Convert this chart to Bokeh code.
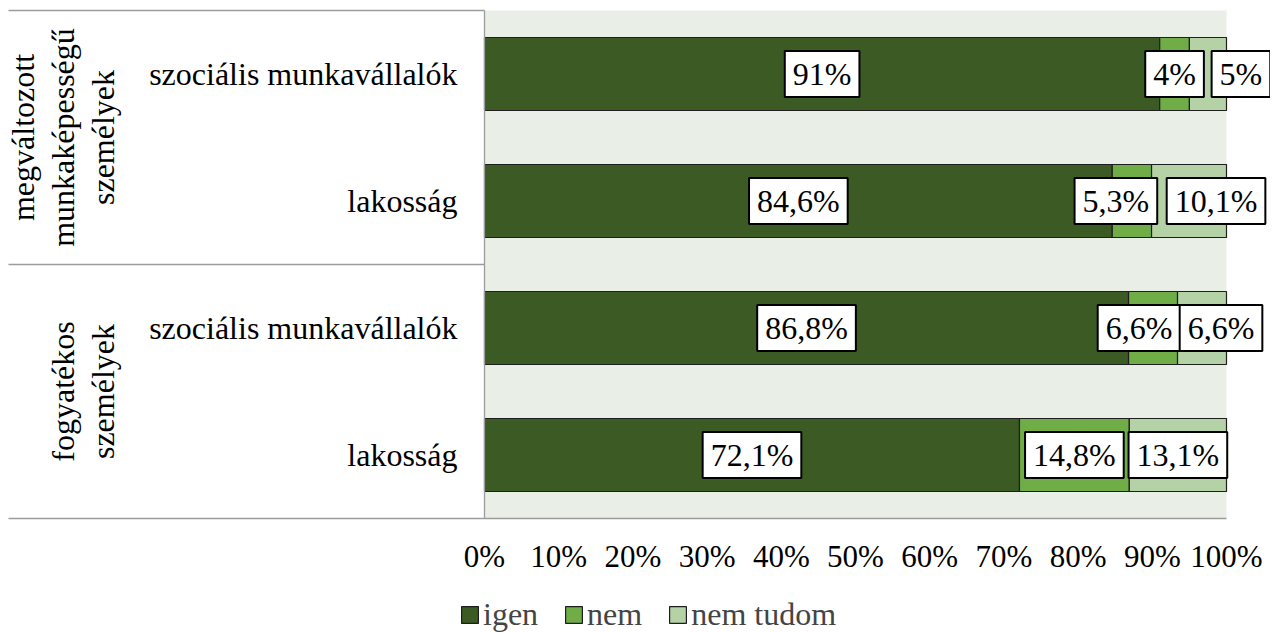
import numpy as np
from bokeh.plotting import figure
from bokeh.models import ColumnDataSource, Range1d, Legend, LegendItem
from bokeh.core.properties import value
from bokeh.embed import file_html
from bokeh.resources import INLINE

# ---------------- data ----------------
groups = ["megváltozott\nmunkaképességű\nszemélyek", "fogyatékos\nszemélyek"]
categories = ["szociális munkavállalók", "lakosság"]
series = ["igen", "nem", "nem tudom"]
igen = [91.0, 84.6, 86.8, 72.1]
nem = [4.0, 5.3, 6.6, 14.8]
nem_tudom = [5.0, 10.1, 6.6, 13.1]
ticks = [0, 10, 20, 30, 40, 50, 60, 70, 80, 90, 100]
tick_labels = [f"{t}%" for t in ticks]

# label nudges in pixels (manual placement in the original chart)
nudge_igen = [0, 0, 0, 0]
nudge_nem = [0, -16, -14, 0]
nudge_tudom = [33, 27, 19, 0]

# ---------------- styles ----------------
colors = ["#3B5A24", "#70AD47", "#B4D2A6"]
bg = "#E9EEE7"
line_gray = "#9C9C9C"
font = "Liberation Serif"

W, H = 1270, 633
PX_PER_UNIT = 7.42
ROW_PX = 127.0
X0_PX = 484.0   # page x of 0 %
Y_TOP_PX = 10.0  # page y of the plot area top
x_start = -X0_PX / PX_PER_UNIT
x_end = x_start + W / PX_PER_UNIT
y_end = 3.5 + Y_TOP_PX / ROW_PX
y_start = y_end - H / ROW_PX

p = figure(width=W, height=H, output_backend="svg", toolbar_location=None,
           x_range=Range1d(x_start, x_end), y_range=Range1d(y_start, y_end),
           min_border=0, outline_line_color=None)
p.xaxis.visible = False
p.yaxis.visible = False
p.grid.visible = False
p.background_fill_color = "white"
p.border_fill_color = "white"

n = len(igen)
row_labels = [categories[i % 2] for i in range(n)]
ys = [3 - i for i in range(n)]

# plot area background
p.quad(left=[0], right=[100], bottom=[-0.5], top=[3.5], fill_color=bg, line_color=None)

vals = [np.array(igen), np.array(nem), np.array(nem_tudom)]
nudges = [nudge_igen, nudge_nem, nudge_tudom]
lefts = np.zeros(n)
renderers = []
label_srcs = []
for k, v in enumerate(vals):
    src = ColumnDataSource(dict(y=ys, left=lefts, right=lefts + v))
    r = p.hbar(y="y", left="left", right="right", height=0.575, source=src,
               fill_color=colors[k], line_color="#1E1E1E", line_width=1.2)
    renderers.append(r)
    lab = [f"{x:g}".replace(".", ",") + "%" for x in v]
    label_srcs.append(ColumnDataSource(dict(x=lefts + v / 2, y=ys, t=lab, dx=nudges[k])))
    lefts = lefts + v

for lsrc in label_srcs:
    p.text(x="x", y="y", text="t", x_offset="dx", source=lsrc,
           text_font=value(font), text_font_size="32px", text_color="black",
           text_align="center", text_baseline="middle",
           background_fill_color="white", border_line_color="black",
           border_line_width=2, padding=(8, 5))

# separator lines of the category axis
left_px = (8 - X0_PX) / PX_PER_UNIT
p.segment(x0=[left_px] * 3, x1=[0, 0, 100],
          y0=[3.5, 1.5, -0.5], y1=[3.5, 1.5, -0.5], line_color=line_gray, line_width=1.3)
p.segment(x0=[0], x1=[0], y0=[-0.5], y1=[3.5], line_color=line_gray, line_width=1.3)

# category labels
p.text(x=[(457 - X0_PX) / PX_PER_UNIT] * n, y=ys, text=row_labels, text_font=value(font),
       text_font_size="32px", text_align="right", text_baseline="middle", text_color="black")

# group labels (rotated)
gx = (121 - X0_PX) / PX_PER_UNIT
p.text(x=[gx, gx], y=[2.5, 0.5], text=groups, angle=np.pi / 2, text_font=value(font),
       text_font_size="32px", text_align="center", text_baseline="bottom",
       text_color="black", text_line_height=1.12)

# x tick labels
ty = 3.5 - (556 - Y_TOP_PX) / ROW_PX
p.text(x=ticks, y=[ty] * len(ticks), text=tick_labels, text_font=value(font),
       text_font_size="31px", text_align="center", text_baseline="middle", text_color="black")

legend = Legend(items=[LegendItem(label=s, renderers=[r]) for s, r in zip(series, renderers)],
                location=(459, 0), orientation="horizontal",
                label_text_font=font, label_text_font_size="32px",
                glyph_width=21, glyph_height=21, label_standoff=3, spacing=25,
                padding=0, margin=0, border_line_color=None, background_fill_alpha=0)
p.add_layout(legend, "center")

open("out.html", "w").write(file_html(p, INLINE))
